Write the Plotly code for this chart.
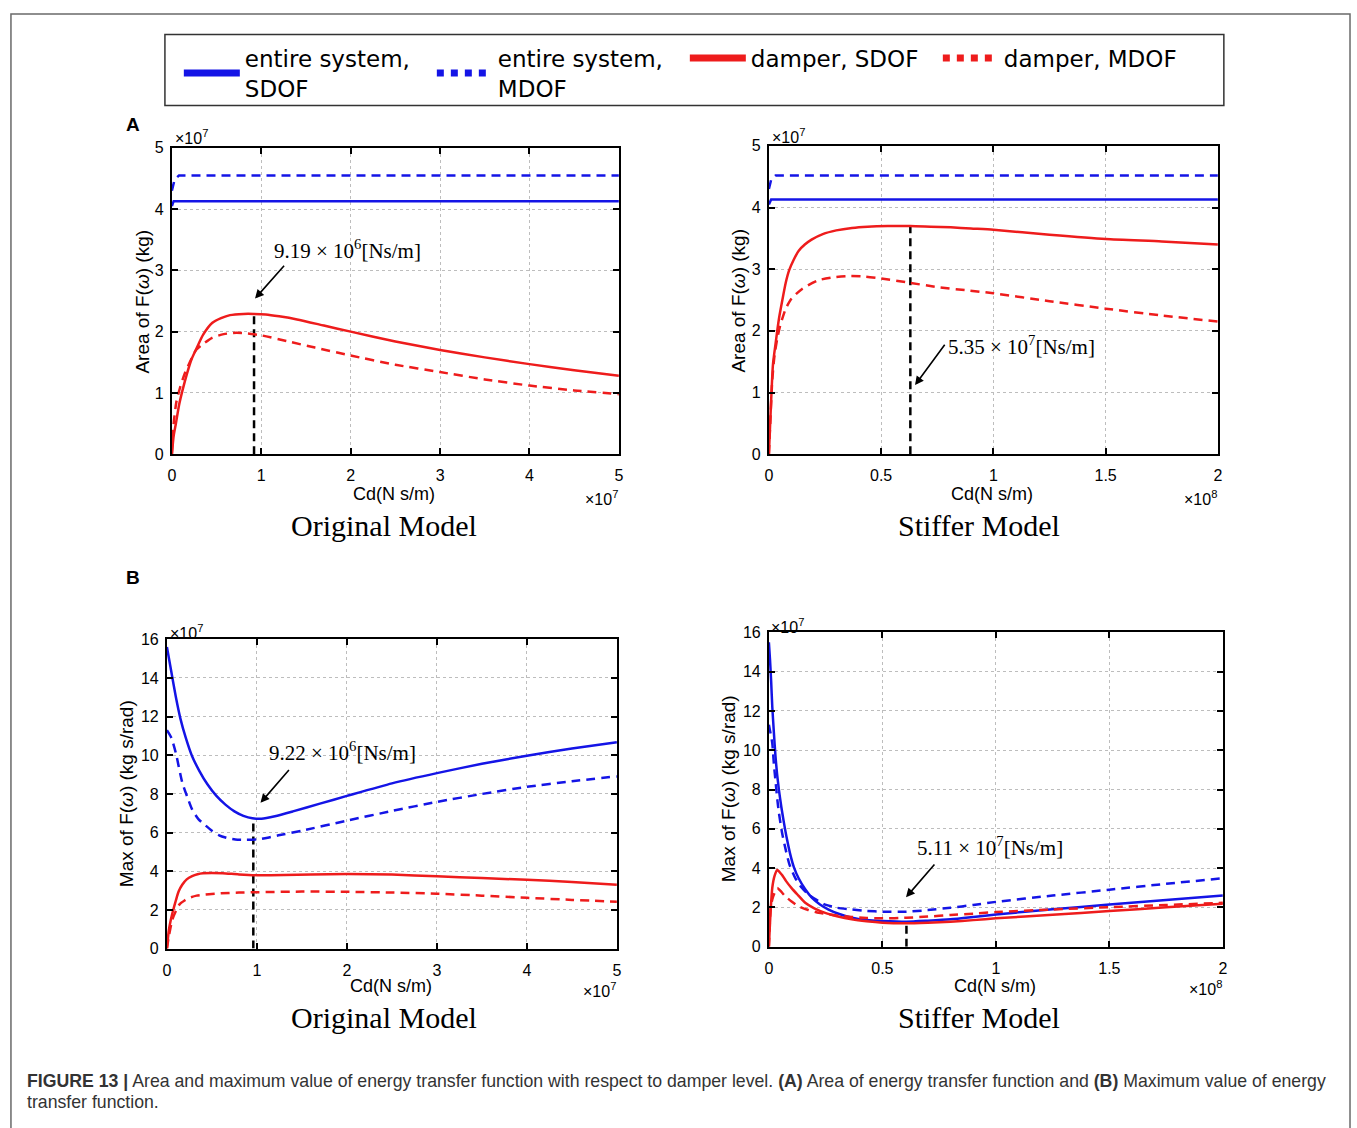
import plotly.graph_objects as go

W, H = 1357, 1128

# ---------------- DATA (displayed units: x in x10^7 / x10^8, y in x10^7) ----------------
# (A) Area, Original model  (x: x10^7 Ns/m)
ao_sys_sdof_x = [0, 0.02, 5.0]
ao_sys_sdof_y = [4.05, 4.13, 4.13]
ao_sys_mdof_x = [0, 0.03, 0.08, 5.0]
ao_sys_mdof_y = [4.3, 4.48, 4.55, 4.55]
ao_dmp_sdof_x = [0, 0.02, 0.045, 0.08, 0.12, 0.17, 0.22, 0.28, 0.35, 0.45, 0.55, 0.65, 0.8, 0.92,
                 1.05, 1.2, 1.4, 1.7, 2.0, 2.5, 3.0, 3.5, 4.0, 4.5, 5.0]
ao_dmp_sdof_y = [0, 0.3, 0.5, 0.8, 1.05, 1.32, 1.55, 1.74, 1.95, 2.14, 2.22, 2.27, 2.29, 2.29,
                 2.28, 2.25, 2.2, 2.1, 2.0, 1.84, 1.70, 1.58, 1.47, 1.37, 1.28]
ao_dmp_mdof_x = [0, 0.02, 0.05, 0.09, 0.14, 0.2, 0.27, 0.35, 0.45, 0.58, 0.72, 0.85, 1.0, 1.3, 1.6,
                 2.0, 2.5, 3.0, 3.5, 4.0, 4.5, 5.0]
ao_dmp_mdof_y = [0, 0.5, 0.85, 1.08, 1.3, 1.5, 1.7, 1.8, 1.9, 1.96, 1.98, 1.97, 1.94, 1.84, 1.74,
                 1.61, 1.46, 1.34, 1.22, 1.12, 1.04, 0.98]
ao_opt_x, ao_opt_top = 0.919, 2.29

# (A) Area, Stiffer model  (x: x10^8 Ns/m)
as_sys_sdof_x = [0, 0.01, 2.0]
as_sys_sdof_y = [4.05, 4.13, 4.13]
as_sys_mdof_x = [0, 0.01, 0.03, 2.0]
as_sys_mdof_y = [4.3, 4.45, 4.52, 4.52]
as_dmp_sdof_x = [0, 0.008, 0.018, 0.03, 0.045, 0.06, 0.075, 0.09, 0.11, 0.133, 0.16, 0.19, 0.24, 0.3,
                 0.37, 0.44, 0.53, 0.63, 0.72, 0.81, 0.9, 1.0, 1.25, 1.5, 1.75, 2.0]
as_dmp_sdof_y = [0, 0.7, 1.45, 1.8, 2.2, 2.5, 2.78, 2.98, 3.15, 3.3, 3.4, 3.48, 3.57, 3.63,
                 3.67, 3.69, 3.70, 3.70, 3.69, 3.68, 3.66, 3.64, 3.56, 3.49, 3.45, 3.40]
as_dmp_mdof_x = [0, 0.006, 0.015, 0.025, 0.037, 0.05, 0.074, 0.1, 0.148, 0.22, 0.29, 0.354, 0.43,
                 0.5, 0.627, 0.75, 0.875, 1.0, 1.25, 1.5, 1.75, 2.0]
as_dmp_mdof_y = [0, 0.5, 1.2, 1.6, 1.87, 2.08, 2.35, 2.52, 2.68, 2.82, 2.87, 2.89, 2.88,
                 2.85, 2.78, 2.71, 2.66, 2.61, 2.48, 2.36, 2.25, 2.15]
as_opt_x, as_opt_top = 0.63, 3.70

# (B) Max, Original model  (x: x10^7 Ns/m)
mo_sys_sdof_x = [0, 0.05, 0.1, 0.15, 0.21, 0.28, 0.36, 0.45, 0.55, 0.65, 0.75, 0.85, 0.95, 1.05,
                 1.2, 1.4, 1.7, 2.0, 2.5, 3.0, 3.5, 4.0, 4.5, 5.0]
mo_sys_sdof_y = [15.6, 14.3, 13.0, 11.9, 10.9, 9.95, 9.2, 8.5, 7.9, 7.45, 7.1, 6.87, 6.74, 6.72,
                 6.85, 7.1, 7.5, 7.9, 8.55, 9.08, 9.56, 9.98, 10.35, 10.68]
mo_sys_mdof_x = [0, 0.05, 0.1, 0.17, 0.23, 0.28, 0.35, 0.43, 0.5, 0.58, 0.67, 0.76, 0.88, 1.0,
                 1.12, 1.24, 1.5, 2.0, 2.5, 3.0, 3.5, 4.0, 4.5, 5.0]
mo_sys_mdof_y = [11.3, 10.9, 10.1, 8.6, 7.8, 7.2, 6.7, 6.37, 6.1, 5.86, 5.72, 5.65, 5.63, 5.65,
                 5.74, 5.86, 6.1, 6.62, 7.12, 7.59, 8.0, 8.37, 8.66, 8.91]
mo_dmp_sdof_x = [0, 0.02, 0.044, 0.07, 0.1, 0.13, 0.17, 0.22, 0.28, 0.34, 0.4, 0.5, 0.62, 0.8,
                 1.0, 1.3, 1.6, 2.0, 2.5, 3.0, 3.5, 4.0, 4.5, 5.0]
mo_dmp_sdof_y = [0, 0.9, 1.5, 2.0, 2.5, 2.95, 3.3, 3.58, 3.75, 3.85, 3.9, 3.91, 3.9, 3.84,
                 3.8, 3.81, 3.84, 3.86, 3.83, 3.74, 3.65, 3.56, 3.45, 3.31]
mo_dmp_mdof_x = [0, 0.02, 0.06, 0.1, 0.14, 0.2, 0.25, 0.33, 0.43, 0.6, 0.8, 1.0, 1.5, 2.0, 2.5,
                 3.0, 3.5, 4.0, 4.5, 5.0]
mo_dmp_mdof_y = [0, 0.6, 1.5, 1.95, 2.29, 2.5, 2.63, 2.74, 2.8, 2.86, 2.9, 2.92, 2.95, 2.94, 2.9,
                 2.84, 2.74, 2.63, 2.52, 2.43]
mo_opt_x, mo_opt_top = 0.96, 6.72

# (B) Max, Stiffer model  (x: x10^8 Ns/m)
ms_sys_sdof_x = [0, 0.005, 0.01, 0.015, 0.022, 0.029, 0.036, 0.044, 0.055, 0.066, 0.08, 0.095,
                 0.11, 0.131, 0.16, 0.19, 0.225, 0.263, 0.31, 0.365, 0.43, 0.5, 0.606, 0.7, 0.8,
                 0.9, 1.0, 1.25, 1.5, 1.75, 2.0]
ms_sys_sdof_y = [15.5, 14.6, 13.5, 12.2, 10.9, 9.7, 8.8, 8.0, 7.1, 6.33, 5.45, 4.66,
                 4.05, 3.48, 2.92, 2.48, 2.15, 1.89, 1.66, 1.47, 1.36, 1.31, 1.27, 1.32, 1.39,
                 1.51, 1.64, 1.9, 2.14, 2.37, 2.6]
ms_sys_mdof_x = [0, 0.005, 0.01, 0.015, 0.022, 0.03, 0.037, 0.044, 0.058, 0.073, 0.09, 0.117,
                 0.145, 0.175, 0.21, 0.248, 0.3, 0.365, 0.43, 0.5, 0.606, 0.7, 0.8, 0.9, 1.0,
                 1.25, 1.5, 1.75, 2.0]
ms_sys_mdof_y = [11.3, 11.0, 10.7, 10.35, 9.3, 8.34, 7.5, 6.83, 5.8, 4.99, 4.2, 3.48,
                 3.0, 2.65, 2.38, 2.14, 1.98, 1.89, 1.82, 1.78, 1.78, 1.86, 1.98, 2.12, 2.28,
                 2.6, 2.9, 3.2, 3.48]
ms_dmp_sdof_x = [0, 0.004, 0.008, 0.015, 0.025, 0.037, 0.047, 0.058, 0.075, 0.1, 0.13, 0.16,
                 0.2, 0.248, 0.3, 0.365, 0.43, 0.5, 0.606, 0.7, 0.8, 0.9, 1.0, 1.25, 1.5, 1.75, 2.0]
ms_dmp_sdof_y = [0, 1.0, 1.9, 3.0, 3.6, 3.9, 3.8, 3.65, 3.35, 2.98, 2.6, 2.23,
                 1.95, 1.72, 1.55, 1.39, 1.29, 1.22, 1.19, 1.22, 1.27, 1.35, 1.44, 1.62, 1.81, 2.0, 2.18]
ms_dmp_mdof_x = [0, 0.004, 0.008, 0.015, 0.022, 0.037, 0.05, 0.073, 0.1, 0.13, 0.17, 0.22, 0.29,
                 0.365, 0.43, 0.5, 0.606, 0.7, 0.8, 0.9, 1.0, 1.25, 1.5, 1.75, 2.0]
ms_dmp_mdof_y = [0, 1.2, 2.0, 2.4, 2.65, 2.98, 2.85, 2.56, 2.3, 2.06, 1.88, 1.72, 1.6,
                 1.51, 1.46, 1.44, 1.47, 1.53, 1.61, 1.68, 1.76, 1.89, 2.01, 2.12, 2.23]
ms_opt_x, ms_opt_top = 0.606, 1.3

legend_names = ["entire system,<br>SDOF", "entire system,<br>MDOF", "damper, SDOF", "damper, MDOF"]
x_ticks_orig = [0, 1, 2, 3, 4, 5]
x_ticks_stiff = [0, 0.5, 1, 1.5, 2]
y_ticks_area = [0, 1, 2, 3, 4, 5]
y_ticks_max = [0, 2, 4, 6, 8, 10, 12, 14, 16]
opt_labels = ["9.19 × 10<sup>6</sup>[Ns/m]", "5.35 × 10<sup>7</sup>[Ns/m]",
              "9.22 × 10<sup>6</sup>[Ns/m]", "5.11 × 10<sup>7</sup>[Ns/m]"]

# ---------------- STYLE ----------------
BLUE = "#1414e6"
RED = "#ee1c1c"
SANS = "Liberation Sans, Arial, sans-serif"
LEGF = "DejaVu Sans, Liberation Sans, sans-serif"
SERIF = "Liberation Serif, Times New Roman, serif"
DASH = "9px,6px"

fig = go.Figure()

panels = [
    ("x", "y", ao_sys_sdof_x, ao_sys_sdof_y, ao_sys_mdof_x, ao_sys_mdof_y,
     ao_dmp_sdof_x, ao_dmp_sdof_y, ao_dmp_mdof_x, ao_dmp_mdof_y, ao_opt_x, ao_opt_top),
    ("x2", "y2", as_sys_sdof_x, as_sys_sdof_y, as_sys_mdof_x, as_sys_mdof_y,
     as_dmp_sdof_x, as_dmp_sdof_y, as_dmp_mdof_x, as_dmp_mdof_y, as_opt_x, as_opt_top),
    ("x3", "y3", mo_sys_sdof_x, mo_sys_sdof_y, mo_sys_mdof_x, mo_sys_mdof_y,
     mo_dmp_sdof_x, mo_dmp_sdof_y, mo_dmp_mdof_x, mo_dmp_mdof_y, mo_opt_x, mo_opt_top),
    ("x4", "y4", ms_sys_sdof_x, ms_sys_sdof_y, ms_sys_mdof_x, ms_sys_mdof_y,
     ms_dmp_sdof_x, ms_dmp_sdof_y, ms_dmp_mdof_x, ms_dmp_mdof_y, ms_opt_x, ms_opt_top),
]

for (xa, ya, sx, sy, mx, my, dsx, dsy, dmx, dmy, ox, otop) in panels:
    fig.add_trace(go.Scatter(x=[ox, ox], y=[0, otop], xaxis=xa, yaxis=ya, mode="lines",
                             line=dict(color="black", width=2.5, dash="8px,5px"), showlegend=False,
                             hoverinfo="skip"))
    for xs, ys, col, dash in [(mx, my, BLUE, DASH), (sx, sy, BLUE, "solid"),
                              (dmx, dmy, RED, DASH), (dsx, dsy, RED, "solid")]:
        shape = "spline" if len(xs) > 6 else "linear"
        fig.add_trace(go.Scatter(x=xs, y=ys, xaxis=xa, yaxis=ya, mode="lines",
                                 line=dict(color=col, width=2.5, dash=dash, shape=shape,
                                           smoothing=0.6),
                                 showlegend=False))

# legend-only traces
for name, col, dash in zip(legend_names, [BLUE, BLUE, RED, RED], ["solid", "dot", "solid", "dot"]):
    fig.add_trace(go.Scatter(x=[None], y=[None], xaxis="x", yaxis="y", mode="lines", name=name,
                             line=dict(color=col, width=7, dash=dash), showlegend=True))


def px_x(p):
    return p / W


def px_y(p):
    return 1 - p / H


def axis_common(rng, ticks, domain, anchor):
    return dict(range=rng, tickvals=ticks, domain=domain, anchor=anchor,
                showline=True, linecolor="black", linewidth=2, mirror="ticks",
                ticks="inside", ticklen=6, tickwidth=1.5, tickcolor="black",
                showgrid=True, gridcolor="#bdbdbd", griddash="dot", gridwidth=1,
                zeroline=False, fixedrange=True,
                tickfont=dict(size=16, family=SANS, color="black"))


boxes = {
    1: (169, 619, 142, 453),
    2: (770, 1222, 140, 453),
    3: (164, 617, 641, 955),
    4: (770, 1227, 634, 953),
}
xranges = {1: [0, 5], 2: [0, 2], 3: [0, 5], 4: [0, 2]}
xticks = {1: x_ticks_orig, 2: x_ticks_stiff, 3: x_ticks_orig, 4: x_ticks_stiff}
yranges = {1: [0, 5], 2: [0, 5], 3: [0, 16], 4: [0, 16]}
yticks = {1: y_ticks_area, 2: y_ticks_area, 3: y_ticks_max, 4: y_ticks_max}

layout_axes = {}
for i, (l, r, t, b) in boxes.items():
    s = "" if i == 1 else str(i)
    xd = [px_x(l), px_x(r)]
    yd = [px_y(b), px_y(t)]
    xa = axis_common(xranges[i], xticks[i], xd, "y" + s)
    xa["ticklabelstandoff"] = 6
    ya = axis_common(yranges[i], yticks[i], yd, "x" + s)
    ya["ticklabelstandoff"] = 3
    layout_axes["xaxis" + s] = xa
    layout_axes["yaxis" + s] = ya

annotations = []


def paper_text(text, x, y, size, family=SANS, xanchor="center", yanchor="middle", angle=0,
               color="black"):
    annotations.append(dict(text=text, x=px_x(x), y=px_y(y), xref="paper", yref="paper",
                            showarrow=False, xanchor=xanchor, yanchor=yanchor, textangle=angle,
                            borderpad=0,
                            font=dict(size=size, family=family, color=color)))


# panel letters
paper_text("<b>A</b>", 130, 118, 19)
paper_text("<b>B</b>", 130, 578, 19)

# exponent labels
exp_top = {1: ("×10<sup>7</sup>", 171, 131), 2: ("×10<sup>7</sup>", 772, 130),
           3: ("×10<sup>7</sup>", 166, 634), 4: ("×10<sup>7</sup>", 771, 627)}
exp_bot = {1: ("×10<sup>7</sup>", 619, 497), 2: ("×10<sup>8</sup>", 1222, 497),
           3: ("×10<sup>7</sup>", 617, 997), 4: ("×10<sup>8</sup>", 1227, 995)}
for i in exp_top:
    t, x, y = exp_top[i]
    paper_text(t, x, y, 16, xanchor="left")
    t, x, y = exp_bot[i]
    paper_text(t, x, y, 16, xanchor="right")

# axis titles
for x, y in [(393, 493), (995, 493), (390, 993), (998, 993)]:
    paper_text("Cd(N s/m)", x, y, 18)
paper_text("Area of F(<i>ω</i>) (kg)", 139, 298, 19, angle=-90)
paper_text("Area of F(<i>ω</i>) (kg)", 739, 297, 19, angle=-90)
paper_text("Max of F(<i>ω</i>) (kg s/rad)", 124, 798, 19, angle=-90)
paper_text("Max of F(<i>ω</i>) (kg s/rad)", 729, 793, 19, angle=-90)

# model captions
paper_text("Original Model", 383, 525, 30, family=SERIF)
paper_text("Stiffer Model", 982, 525, 30, family=SERIF)
paper_text("Original Model", 383, 1025, 30, family=SERIF)
paper_text("Stiffer Model", 982, 1025, 30, family=SERIF)

# figure caption
paper_text("<b>FIGURE 13 |</b> Area and maximum value of energy transfer function with respect to "
           "damper level. <b>(A)</b> Area of energy transfer function and <b>(B)</b> Maximum value "
           "of energy", 22, 1089, 17.7, xanchor="left", color="#333333")
paper_text("transfer function.", 22, 1111, 17.7, xanchor="left", color="#333333")

# optimum annotations (arrow + label) in data coordinates
arrows = [
    ("x", "y", 0.93, 2.54, 1.27, 3.10, 1.97, 3.34, "center"),
    ("x2", "y2", 0.651, 1.12, 0.788, 1.8, 0.79, 1.76, "left"),
    ("x3", "y3", 1.04, 7.54, 1.37, 9.32, 1.956, 10.19, "center"),
    ("x4", "y4", 0.604, 2.51, 0.735, 4.26, 0.972, 5.12, "center"),
]
for (xa, ya, hx, hy, tx, ty, lx, ly, anc), lab in zip(arrows, opt_labels):
    annotations.append(dict(x=hx, y=hy, ax=tx, ay=ty, xref=xa, yref=ya, axref=xa, ayref=ya,
                            text="", showarrow=True, arrowhead=2, arrowsize=1.1, arrowwidth=1.6,
                            arrowcolor="black", standoff=0, startstandoff=0))
    annotations.append(dict(x=lx, y=ly, xref=xa, yref=ya, text=lab, showarrow=False,
                            xanchor=anc, yanchor="middle",
                            font=dict(size=21, family=SERIF, color="black")))

shapes = [
    # outer figure frame
    dict(type="rect", xref="paper", yref="paper", x0=px_x(7), x1=px_x(1355), y0=-0.02,
         y1=px_y(6), line=dict(color="#6a6a6a", width=1.5), fillcolor="rgba(0,0,0,0)",
         layer="below"),
    # legend frame
    dict(type="rect", xref="paper", yref="paper", x0=px_x(162), x1=px_x(1228), y0=px_y(99),
         y1=px_y(27), line=dict(color="#333333", width=1.5), fillcolor="rgba(0,0,0,0)",
         layer="below"),
]

fig.update_layout(
    width=W, height=H,
    margin=dict(l=0, r=0, t=0, b=0),
    paper_bgcolor="white", plot_bgcolor="white",
    showlegend=True,
    legend=dict(orientation="h", x=px_x(176), y=px_y(29), xanchor="left", yanchor="top",
                bgcolor="rgba(0,0,0,0)", borderwidth=0,
                font=dict(size=23, family=LEGF, color="black"),
                itemwidth=56, entrywidth=182, entrywidthmode="pixels",
                itemclick=False, itemdoubleclick=False, valign="middle"),
    annotations=annotations,
    shapes=shapes,
    **layout_axes,
)

fig.write_html("out.html", config={"displayModeBar": False},
               post_script="document.body.style.margin='0px';"
                           "document.body.style.padding='0px';"
                           "document.body.style.overflow='hidden';"
                           "var gd=document.getElementById('{plot_id}');"
                           "gd.style.position='absolute';gd.style.left='0px';gd.style.top='0px';")
